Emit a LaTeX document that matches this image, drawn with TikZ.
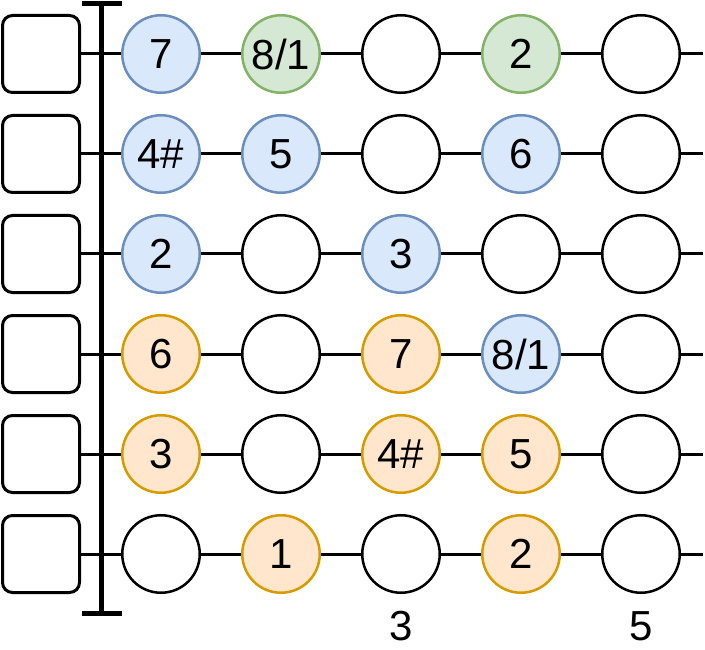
\documentclass[tikz,border=0pt]{standalone}
\usepackage{fontspec}
\setmainfont{Liberation Sans}
\definecolor{bfill}{HTML}{DAE8FC}\definecolor{bdraw}{HTML}{6C8EBF}
\definecolor{gfill}{HTML}{D5E8D4}\definecolor{gdraw}{HTML}{82B366}
\definecolor{ofill}{HTML}{FFE6CC}\definecolor{odraw}{HTML}{D79B00}
\tikzset{
  note/.style={circle,minimum size=77.5pt,inner sep=0pt,line width=2.5pt,font=\fontsize{42}{46}\selectfont},
  w/.style={note,draw=black,fill=white},
  b/.style={note,draw=bdraw,fill=bfill},
  g/.style={note,draw=gdraw,fill=gfill},
  o/.style={note,draw=odraw,fill=ofill},
  sq/.style={draw=black,line width=3pt,rounded corners=10pt,minimum size=77pt,inner sep=0pt,fill=white},
  wire/.style={line width=3pt},
  lbl/.style={font=\fontsize{42}{46}\selectfont,inner sep=0pt},
}
\begin{document}
\begin{tikzpicture}[x=1pt,y=-1pt]
\useasboundingbox (0,0) rectangle (705,650);
\foreach \r/\a/\ta/\b/\tb/\c/\tc/\d/\td/\e/\te in {
  1/b/7/g/8\slash 1/w//g/2/w/,
  2/b/4\#/b/5/w//b/6/w/,
  3/b/2/w//b/3/w//w/,
  4/o/6/w//o/7/b/8\slash 1/w/,
  5/o/3/w//o/4\#/o/5/w/,
  6/w//o/1/w//o/2/w/}{
  \pgfmathsetmacro{\yy}{54+100*(\r-1)}
  \node[sq] (s\r) at (41,\yy) {};
  \coordinate (e\r) at (703,\yy);
  \node[\a] (c\r1) at (161,\yy) {\ta};
  \node[\b] (c\r2) at (281,\yy) {\tb};
  \node[\c] (c\r3) at (401,\yy) {\tc};
  \node[\d] (c\r4) at (521,\yy) {\td};
  \node[\e] (c\r5) at (641,\yy) {\te};
  \draw[wire] (s\r) -- (c\r1) (c\r1) -- (c\r2) (c\r2) -- (c\r3) (c\r3) -- (c\r4) (c\r4) -- (c\r5) (c\r5) -- (e\r);
}
\coordinate (bt) at (101.5,3.5);
\coordinate (bb) at (101.5,613.5);
\coordinate (btl) at (82,3.5);\coordinate (btr) at (122,3.5);
\coordinate (bbl) at (82,613.5);\coordinate (bbr) at (122,613.5);
\draw[line width=5pt] (bt) -- (bb);
\draw[line width=5pt] (btl) -- (btr);
\draw[line width=5pt] (bbl) -- (bbr);
\node[lbl] (l3) at (401,626) {3};
\node[lbl] (l5) at (641,626) {5};
\end{tikzpicture}
\end{document}
